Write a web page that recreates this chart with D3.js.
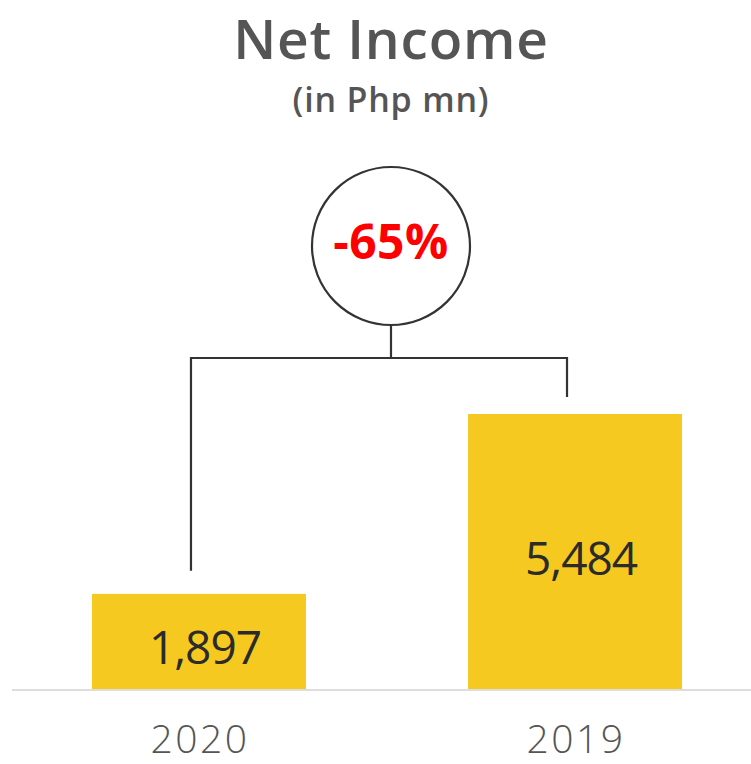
<!DOCTYPE html>
<html>
<head>
<meta charset="utf-8">
<script src="https://cdn.jsdelivr.net/npm/d3@7"></script>
<style>
  html, body { margin: 0; padding: 0; background: #fff; }
  svg { display: block; }
</style>
</head>
<body>
<svg id="chart" width="751" height="764"></svg>
<script>
// Net income by year (Php millions)
const years = ["2020", "2019"];
const netIncome = [1897, 5484];
const changeLabel = "-65%";
const titleText = "Net Income";
const subtitleText = "(in Php mn)";

const W = 751, H = 764;
const baseline = 689;
const svg = d3.select("#chart");

const x = d3.scaleBand().domain(years).range([92, 682]).paddingInner(0.431).paddingOuter(0);
const y = d3.scaleLinear().domain([0, d3.max(netIncome)]).range([baseline, 414]);

const data = years.map((yr, i) => ({ year: yr, value: netIncome[i] }));

// title block
svg.append("text").attr("x", 391).attr("y", 59).attr("text-anchor", "middle")
  .attr("font-family", "Open Sans").attr("font-weight", 600).attr("font-size", 55)
  .attr("letter-spacing", 0.8)
  .attr("fill", "#555").text(titleText);
svg.append("text").attr("x", 391).attr("y", 112).attr("text-anchor", "middle")
  .attr("font-family", "Open Sans").attr("font-weight", 600).attr("font-size", 34)
  .attr("letter-spacing", 0.8)
  .attr("fill", "#555").text(subtitleText);

// baseline
svg.append("line").attr("x1", 12).attr("x2", W).attr("y1", baseline + 1).attr("y2", baseline + 1)
  .attr("stroke", "#ddd").attr("stroke-width", 2);

// bars
svg.selectAll("rect.bar").data(data).join("rect").attr("class", "bar")
  .attr("x", d => x(d.year)).attr("width", x.bandwidth())
  .attr("y", d => y(d.value)).attr("height", d => baseline - y(d.value))
  .attr("fill", "#f5c91f");

// value labels inside bars
svg.selectAll("text.val").data(data).join("text").attr("class", "val")
  .attr("x", d => x(d.year) + x.bandwidth() / 2 + 6)
  .attr("y", d => (y(d.value) + baseline) / 2 + 23)
  .attr("text-anchor", "middle")
  .attr("font-family", "Open Sans").attr("font-weight", 500).attr("font-size", 46)
  .attr("letter-spacing", -1)
  .attr("fill", "#2b2b2b").text(d => d3.format(",")(d.value));

// year labels
svg.selectAll("text.yr").data(data).join("text").attr("class", "yr")
  .attr("x", d => x(d.year) + x.bandwidth() / 2 + 1)
  .attr("y", 753).attr("text-anchor", "middle")
  .attr("font-family", "Open Sans").attr("font-weight", 300).attr("font-size", 39)
  .attr("letter-spacing", 2.5)
  .attr("fill", "#555").text(d => d.year);

// comparison bracket
const cx = 391, cy = 246, r = 79, barY = 358;
const legX = d => x(d.year) + x.bandwidth() / 2 - 8;
const bracket = d3.path();
bracket.moveTo(legX(data[0]), y(data[0].value) - 23);
bracket.lineTo(legX(data[0]), barY);
bracket.lineTo(legX(data[1]), barY);
bracket.lineTo(legX(data[1]), y(data[1].value) - 17);
bracket.moveTo(cx, cy + r);
bracket.lineTo(cx, barY);
svg.append("path").attr("d", bracket.toString()).attr("fill", "none")
  .attr("stroke", "#333").attr("stroke-width", 2.2);

svg.append("circle").attr("cx", cx).attr("cy", cy).attr("r", r)
  .attr("fill", "#fff").attr("stroke", "#333").attr("stroke-width", 2.2);
svg.append("text").attr("x", cx).attr("y", 259).attr("text-anchor", "middle")
  .attr("font-family", "Open Sans").attr("font-weight", 700).attr("font-size", 48)
  .attr("letter-spacing", 0.5)
  .attr("fill", "#ff0000").text(changeLabel);
</script>
</body>
</html>
